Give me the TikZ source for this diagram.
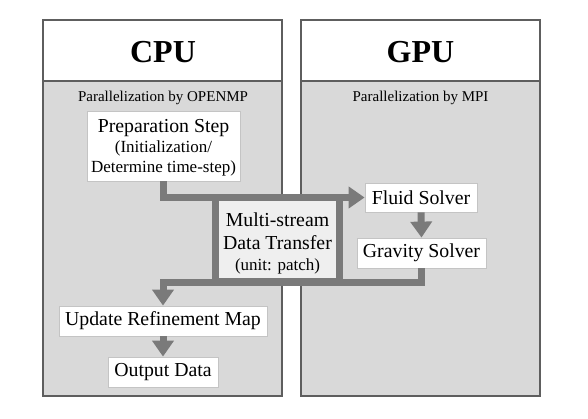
\documentclass[tikz,border=0pt]{standalone}
\usepackage{fontspec}
\setmainfont{Liberation Serif}
\usetikzlibrary{arrows.meta}
\definecolor{panelgray}{HTML}{D9D9D9}
\definecolor{framegray}{HTML}{5E5E5E}
\definecolor{flowgray}{HTML}{7A7A7A}
\definecolor{boxline}{HTML}{C4C4C4}
\definecolor{mstfill}{HTML}{EFEFEF}
\tikzset{
  panel/.style={draw=framegray,line width=1.6pt},
  stepbox/.style={draw=boxline,line width=0.8pt,fill=white,inner sep=0pt,align=center},
  flow/.style={draw=flowgray,line width=7pt},
  flowarrow/.style={flow,-{Triangle[width=21pt,length=16pt]}},
  bigtxt/.style={font=\fontsize{19.8}{22}\selectfont},
  midtxt/.style={font=\fontsize{17}{19}\selectfont},
  smalltxt/.style={font=\fontsize{15}{17}\selectfont},
  titletxt/.style={font=\fontsize{32}{36}\selectfont\bfseries},
  line/.style={anchor=base,inner sep=0pt},
}
\begin{document}
\begin{tikzpicture}[x=1pt,y=-1pt]
\useasboundingbox (0,0) rectangle (588,419);
% panels
\fill[white] (43,20) rectangle (282,81);
\fill[panelgray] (43,81) rectangle (282,396);
\draw[panel] (43,20) rectangle (282,396);
\draw[panel] (43,81) -- (282,81);
\fill[white] (301,20) rectangle (540,81);
\fill[panelgray] (301,81) rectangle (540,396);
\draw[panel] (301,20) rectangle (540,396);
\draw[panel] (301,81) -- (540,81);
\node[titletxt] (cpu) at (163,52) {CPU};
\node[titletxt] (gpu) at (420.5,52) {GPU};
\node[smalltxt] (pcpu) at (163,98) {Parallelization by OPENMP};
\node[smalltxt] (pgpu) at (420.5,98) {Parallelization by MPI};
% boxes
\node[stepbox,minimum width=153pt,minimum height=70pt] (prep) at (163.5,146) {};
\node[line,bigtxt] (prep1) at (163.5,133) {Preparation Step};
\node[line,midtxt] (prep2) at (163.5,153) {(Initialization/};
\node[line,midtxt] (prep3) at (163.5,173) {Determine time-step)};
\node[stepbox,minimum width=112pt,minimum height=29pt,bigtxt] (fluid) at (421,197.5) {Fluid Solver};
\node[stepbox,minimum width=129pt,minimum height=30pt,bigtxt] (grav) at (421.5,253) {Gravity Solver};
\node[stepbox,minimum width=208pt,minimum height=30pt,bigtxt] (upd) at (163,321) {Update Refinement Map};
\node[stepbox,minimum width=110pt,minimum height=30pt,bigtxt] (out) at (163,372) {Output Data};
\coordinate (bl) at (163,282);
% flows
\draw[flowarrow] (prep.south) |- (fluid.west);
\draw[flowarrow] (grav.south) |- (bl) -- (upd.north);
\draw[flowarrow] (fluid.south) -- (grav.north);
\draw[flowarrow] (upd.south) -- (out.north);
\node[draw=flowgray,line width=7pt,fill=mstfill,minimum width=124pt,minimum height=84pt,inner sep=0pt] (mst) at (277.5,239.5) {};
\node[line,bigtxt] (mst1) at (277.5,227) {Multi-stream};
\node[line,bigtxt] (mst2) at (277.5,250) {Data Transfer};
\node[line,midtxt] (mst3) at (277.5,271) {(unit: patch)};
\end{tikzpicture}
\end{document}
